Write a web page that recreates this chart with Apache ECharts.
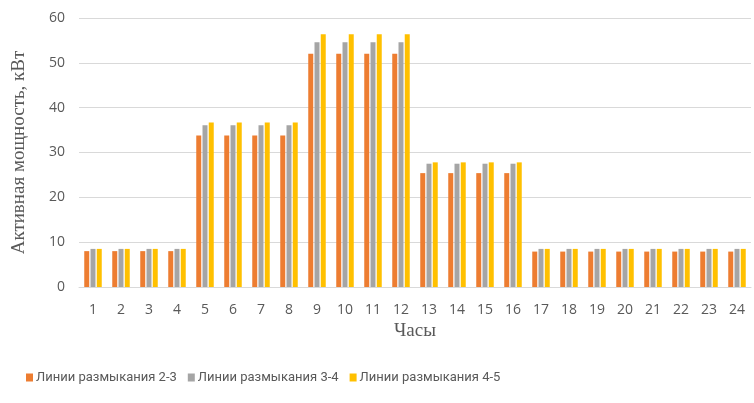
<!DOCTYPE html>
<html><head><meta charset="utf-8">
<script src="https://cdn.jsdelivr.net/npm/echarts@6/dist/echarts.min.js"></script>
<style>html,body{margin:0;padding:0;background:#fff}#c{width:754px;height:403px}</style>
</head><body><div id="c"></div>
<script>
const hours = ['1','2','3','4','5','6','7','8','9','10','11','12','13','14','15','16','17','18','19','20','21','22','23','24'];
const seriesNames = ['Линии размыкания 2-3','Линии размыкания 3-4','Линии размыкания 4-5'];
const line23 = [8,8,8,8,33.8,33.8,33.8,33.8,52,52,52,52,25.4,25.4,25.4,25.4,7.9,7.9,7.9,7.9,7.9,7.9,7.9,7.9];
const line34 = [8.5,8.5,8.5,8.5,36.1,36.1,36.1,36.1,54.6,54.6,54.6,54.6,27.5,27.5,27.5,27.5,8.5,8.5,8.5,8.5,8.5,8.5,8.5,8.5];
const line45 = [8.5,8.5,8.5,8.5,36.7,36.7,36.7,36.7,56.4,56.4,56.4,56.4,27.8,27.8,27.8,27.8,8.5,8.5,8.5,8.5,8.5,8.5,8.5,8.5];
const colors = ['#ED7D31','#A5A5A5','#FFC000'];
const chart = echarts.init(document.getElementById('c'));
const mk = (name, data, color) => ({
  name, type:'bar', data, barWidth:5, barGap:'25%',
  itemStyle:{color}
});
chart.setOption({
  animation:false,
  textStyle:{fontFamily:'Open Sans'},
  legend:{
    bottom:14, left:21, itemWidth:7, itemHeight:8, itemGap:11,
    icon:'rect',
    textStyle:{fontSize:13, color:'#595959', fontFamily:'Roboto', padding:[0,0,0,-2]},
    data:seriesNames
  },
  grid:{left:79, right:3, top:18, bottom:116},
  xAxis:{
    type:'category', data:hours,
    name:'Часы', nameLocation:'middle', nameGap:26,
    nameTextStyle:{fontFamily:'Liberation Serif', fontSize:19, color:'#595959'},
    axisLine:{lineStyle:{color:'#d9d9d9'}},
    axisTick:{show:false},
    axisLabel:{fontSize:14, color:'#595959', margin:16}
  },
  yAxis:{
    type:'value', min:0, max:60, interval:10,
    name:'Активная мощность, кВт', nameLocation:'middle', nameGap:50,
    nameTextStyle:{fontFamily:'Liberation Serif', fontSize:19, color:'#595959'},
    axisLine:{show:false}, axisTick:{show:false},
    axisLabel:{fontSize:14, color:'#595959', margin:14},
    splitLine:{lineStyle:{color:'#d9d9d9'}}
  },
  series:[mk(seriesNames[0], line23, colors[0]), mk(seriesNames[1], line34, colors[1]), mk(seriesNames[2], line45, colors[2])]
});
</script></body></html>
